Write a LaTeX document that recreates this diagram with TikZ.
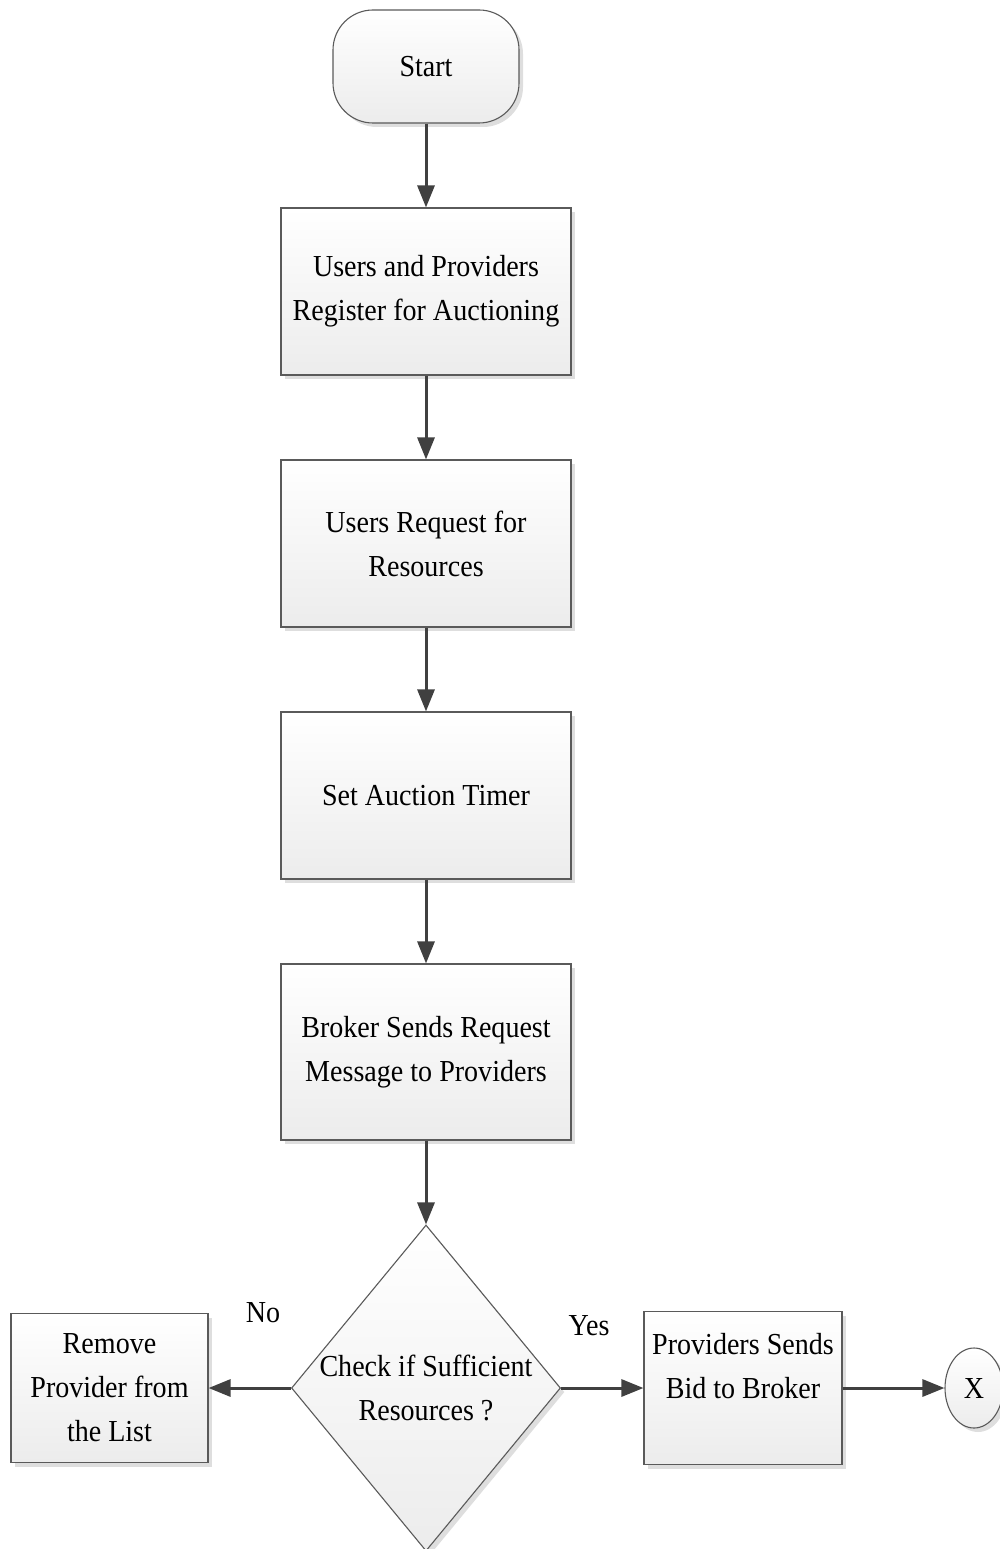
\documentclass[tikz,border=0pt]{standalone}
\usepackage{fontspec}
\setmainfont{Liberation Serif}[FakeStretch=0.92]
\usetikzlibrary{arrows.meta,shapes.geometric,shadows}
\definecolor{linegray}{HTML}{5A5A5A}
\definecolor{arrowgray}{HTML}{404040}
\definecolor{fillbot}{HTML}{ECECEC}
\begin{document}
\begin{tikzpicture}[x=1pt,y=-1pt,
  base/.style={draw=linegray,line width=1.1pt,top color=white,bottom color=fillbot,
    drop shadow={shadow xshift=4pt,shadow yshift=-4pt,fill=black!13,opacity=1},
    align=center,font=\fontsize{30.5}{44}\selectfont,inner sep=0pt},
  proc/.style={base,rectangle,minimum width=290pt,minimum height=167pt},
  terminal/.style={base,rectangle,rounded corners=40pt,minimum width=186pt,minimum height=113pt},
  decision/.style={base,diamond,minimum width=269pt,minimum height=326pt},
  connector/.style={base,ellipse,minimum width=58pt,minimum height=80pt},
  flow/.style={draw=arrowgray,line width=3pt,-{Triangle[length=22pt,width=17pt]}},
  lbl/.style={font=\fontsize{30.5}{36}\selectfont,inner sep=0pt}]
\useasboundingbox (0,0) rectangle (1000,1549);

\node[terminal] (start) at (426,66.5) {Start};
\node[proc] (reg) at (426,291.5) {Users and Providers\\Register for Auctioning};
\node[proc] (req) at (426,543.5) {Users Request for\\Resources};
\node[proc] (timer) at (426,795.5) {Set Auction Timer};
\node[proc,minimum height=176pt] (send) at (426,1052) {Broker Sends Request\\Message to Providers};
\node[decision,label={[align=center,font=\fontsize{30.5}{44}\selectfont]center:Check if Sufficient\\Resources ?}] (dec) at (426,1388) {};
\node[proc,minimum width=197pt,minimum height=149pt] (rem) at (109.5,1388) {Remove\\Provider from\\the List};
\node[proc,minimum width=198pt,minimum height=153pt] (bid) at (743,1388) {Providers Sends\\Bid to Broker\\\mbox{}};
\node[connector] (x) at (974,1388) {X};

\node[lbl] (no) at (263,1313) {No};
\node[lbl] (yes) at (589,1326) {Yes};

\draw[flow] (start) -- (reg);
\draw[flow] (reg) -- (req);
\draw[flow] (req) -- (timer);
\draw[flow] (timer) -- (send);
\draw[flow] (send) -- (dec);
\draw[flow] (dec.west) -- (rem.east);
\draw[flow] (dec.east) -- (bid.west);
\draw[flow] (bid.east) -- (x.west);
\end{tikzpicture}
\end{document}
